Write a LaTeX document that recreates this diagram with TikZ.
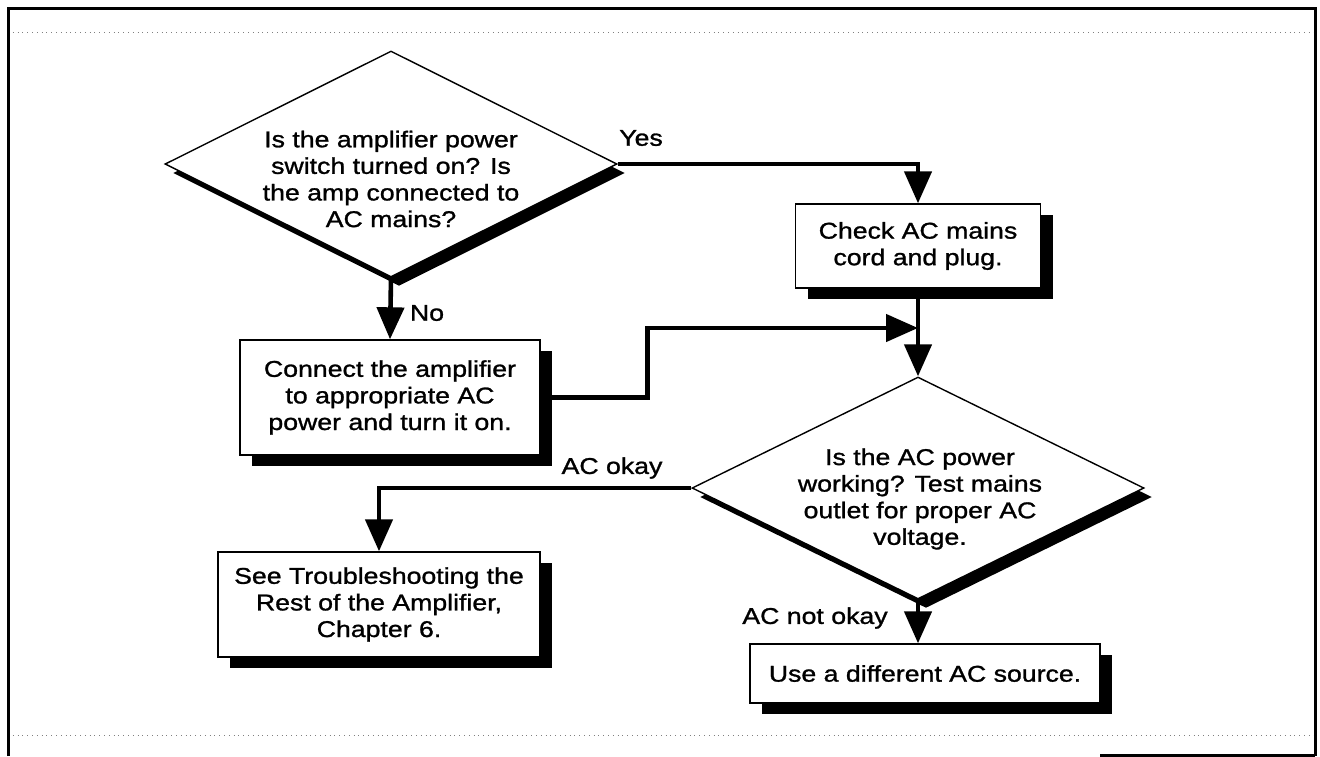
\documentclass[tikz,border=0pt]{standalone}
\usepackage{fontspec}
\setmainfont{Liberation Sans}[FakeStretch=1.17,FakeBold=1.2]
\usetikzlibrary{shapes.geometric,shadows,arrows.meta}

\begin{document}
\begin{tikzpicture}[x=0.5pt,y=-0.5pt,
    font=\fontsize{11.4pt}{13.3pt}\selectfont,
    box/.style={draw,fill=white,line width=0.7pt,inner sep=0pt,align=center,
      drop shadow={shadow xshift=6pt,shadow yshift=-5.5pt,opacity=1,fill=black}},
    query/.style={diamond,draw,fill=white,line width=0.7pt,inner sep=0pt,
      drop shadow={shadow xshift=4pt,shadow yshift=-4.5pt,opacity=1,fill=black}},
    flow/.style={line width=2.3pt,-{Triangle[length=16pt,width=13.5pt]}}]
  \useasboundingbox (0,0) rectangle (1320,756);

  % frame
  \draw[gray,dotted] (8,32) -- (1315,32) (8,735) -- (1315,735);
  \draw[line width=1.5pt] (8,756) -- (8,8) -- (1315,8) -- (1315,756);
  \draw[line width=1.5pt] (1100,755) -- (1315,755);

  \node[query,minimum width=226pt,minimum height=113pt] (q1) at (391,164) {};
  \node[align=center,inner sep=0pt] (q1t) at (391,179)
    {Is the amplifier power\\switch turned on? Is\\the amp connected to\\AC mains?};
  \node[box,minimum width=122.5pt,minimum height=42pt] (cord) at (918,246)
    {Check AC mains\\cord and plug.};
  \node[box,minimum width=150pt,minimum height=57.5pt] (conn) at (390,397.5)
    {Connect the amplifier\\to appropriate AC\\power and turn it on.};
  \node[query,minimum width=226pt,minimum height=111pt] (q2) at (918,488) {};
  \node[align=center,inner sep=0pt] (q2t) at (920,499)
    {Is the AC power\\working? Test mains\\outlet for proper AC\\voltage.};
  \node[box,minimum width=161pt,minimum height=52.5pt] (rest) at (379,604.5)
    {See Troubleshooting the\\Rest of the Amplifier,\\Chapter 6.};
  \node[box,minimum width=175pt,minimum height=29.5pt] (src) at (925,673.5)
    {Use a different AC source.};

  \node (yes) at (641,138) {Yes};
  \node (no) at (427,313) {No};
  \node (ok) at (612,468) {AC okay};
  \node (notok) at (815,618) {AC not okay};

  \coordinate (join) at (918,328);
  \draw[flow] (q1.east) -| (cord.north);
  \draw[flow] (q1.south) -- (conn.north);
  \draw[flow] (conn.east) -- ++(107,0) |- (join);
  \draw[flow] (cord.south) -- (q2.north);
  \draw[flow] (q2.west) -| (rest.north);
  \draw[flow] (q2.south) -- (q2.south |- src.north);
\end{tikzpicture}
\end{document}
